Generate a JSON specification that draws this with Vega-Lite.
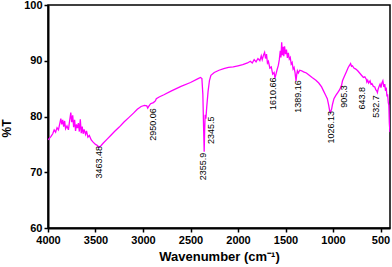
{
  "$schema": "https://vega.github.io/schema/vega-lite/v6.json",
  "width": 342,
  "height": 223,
  "autosize": "none",
  "padding": {"left": 48, "top": 5, "right": 2, "bottom": 39},
  "background": "white",
  "config": {
    "view": {"stroke": "black", "strokeWidth": 1.5},
    "font": "Liberation Sans",
    "axis": {
      "grid": false,
      "domainColor": "black",
      "domainWidth": 2,
      "tickColor": "black",
      "tickWidth": 1.5,
      "labelColor": "black",
      "titleColor": "black",
      "labelFont": "Liberation Sans",
      "titleFont": "Liberation Sans",
      "labelFontWeight": "bold",
      "titleFontWeight": "bold",
      "labelFontSize": 11,
      "titleFontSize": 13
    }
  },
  "datasets": {
    "spectrum": [
      {"wn": 4000, "t": 75.8}, {"wn": 3970, "t": 76.4}, {"wn": 3950, "t": 76.9}, {"wn": 3935, "t": 77.6},
      {"wn": 3920, "t": 77.2}, {"wn": 3905, "t": 78.0}, {"wn": 3890, "t": 77.6}, {"wn": 3875, "t": 78.8},
      {"wn": 3865, "t": 79.6}, {"wn": 3855, "t": 78.6}, {"wn": 3845, "t": 79.4}, {"wn": 3835, "t": 78.2},
      {"wn": 3825, "t": 79.2}, {"wn": 3815, "t": 77.8}, {"wn": 3800, "t": 78.3}, {"wn": 3785, "t": 77.6},
      {"wn": 3775, "t": 78.9}, {"wn": 3760, "t": 80.7}, {"wn": 3750, "t": 79.0}, {"wn": 3740, "t": 80.2},
      {"wn": 3730, "t": 78.1}, {"wn": 3720, "t": 79.4}, {"wn": 3710, "t": 77.4}, {"wn": 3700, "t": 78.6},
      {"wn": 3690, "t": 77.9}, {"wn": 3680, "t": 78.8}, {"wn": 3670, "t": 77.3}, {"wn": 3660, "t": 79.5},
      {"wn": 3650, "t": 77.0}, {"wn": 3640, "t": 78.2}, {"wn": 3630, "t": 76.9}, {"wn": 3620, "t": 77.7},
      {"wn": 3605, "t": 76.8}, {"wn": 3595, "t": 77.4}, {"wn": 3580, "t": 76.3}, {"wn": 3565, "t": 76.6},
      {"wn": 3545, "t": 75.8}, {"wn": 3525, "t": 75.4}, {"wn": 3500, "t": 75.0}, {"wn": 3480, "t": 74.8},
      {"wn": 3463, "t": 74.5}, {"wn": 3440, "t": 74.8}, {"wn": 3420, "t": 75.2}, {"wn": 3380, "t": 75.9},
      {"wn": 3340, "t": 76.6}, {"wn": 3300, "t": 77.3}, {"wn": 3250, "t": 78.1}, {"wn": 3200, "t": 79.0},
      {"wn": 3150, "t": 79.8}, {"wn": 3100, "t": 80.6}, {"wn": 3060, "t": 81.3}, {"wn": 3020, "t": 81.8},
      {"wn": 2985, "t": 82.0}, {"wn": 2960, "t": 81.9}, {"wn": 2950, "t": 81.5}, {"wn": 2940, "t": 81.8},
      {"wn": 2920, "t": 82.3}, {"wn": 2890, "t": 82.5}, {"wn": 2870, "t": 82.8}, {"wn": 2860, "t": 83.2},
      {"wn": 2830, "t": 83.5}, {"wn": 2780, "t": 83.9}, {"wn": 2700, "t": 84.6}, {"wn": 2600, "t": 85.4},
      {"wn": 2500, "t": 86.1}, {"wn": 2420, "t": 86.8}, {"wn": 2395, "t": 87.0}, {"wn": 2380, "t": 86.8},
      {"wn": 2370, "t": 84.0}, {"wn": 2362, "t": 78.0}, {"wn": 2356, "t": 73.7}, {"wn": 2351, "t": 77.5},
      {"wn": 2345.5, "t": 80.3}, {"wn": 2338, "t": 79.6}, {"wn": 2330, "t": 81.5}, {"wn": 2315, "t": 84.5},
      {"wn": 2300, "t": 86.5}, {"wn": 2285, "t": 87.4}, {"wn": 2250, "t": 87.9}, {"wn": 2200, "t": 88.3},
      {"wn": 2150, "t": 88.6}, {"wn": 2100, "t": 88.8}, {"wn": 2050, "t": 88.9}, {"wn": 2000, "t": 89.1},
      {"wn": 1950, "t": 89.3}, {"wn": 1900, "t": 89.6}, {"wn": 1870, "t": 89.9}, {"wn": 1850, "t": 89.6},
      {"wn": 1830, "t": 90.2}, {"wn": 1810, "t": 89.8}, {"wn": 1790, "t": 90.4}, {"wn": 1770, "t": 90.0},
      {"wn": 1755, "t": 90.9}, {"wn": 1745, "t": 90.2}, {"wn": 1730, "t": 91.1}, {"wn": 1720, "t": 91.5},
      {"wn": 1710, "t": 90.4}, {"wn": 1700, "t": 91.2}, {"wn": 1690, "t": 89.6}, {"wn": 1680, "t": 89.9},
      {"wn": 1665, "t": 88.7}, {"wn": 1650, "t": 88.9}, {"wn": 1635, "t": 87.6}, {"wn": 1620, "t": 87.9},
      {"wn": 1610.66, "t": 86.9}, {"wn": 1600, "t": 87.6}, {"wn": 1590, "t": 88.3}, {"wn": 1575, "t": 89.2},
      {"wn": 1565, "t": 90.2}, {"wn": 1555, "t": 91.8}, {"wn": 1548, "t": 90.6}, {"wn": 1540, "t": 93.3},
      {"wn": 1533, "t": 91.0}, {"wn": 1525, "t": 92.5}, {"wn": 1518, "t": 90.8}, {"wn": 1510, "t": 92.6},
      {"wn": 1500, "t": 91.2}, {"wn": 1490, "t": 92.0}, {"wn": 1480, "t": 90.5}, {"wn": 1470, "t": 91.4},
      {"wn": 1460, "t": 90.3}, {"wn": 1450, "t": 90.6}, {"wn": 1440, "t": 89.4}, {"wn": 1430, "t": 89.7},
      {"wn": 1420, "t": 88.5}, {"wn": 1410, "t": 88.8}, {"wn": 1400, "t": 87.9}, {"wn": 1389.16, "t": 86.4},
      {"wn": 1382, "t": 87.5}, {"wn": 1375, "t": 88.2}, {"wn": 1365, "t": 87.8}, {"wn": 1350, "t": 88.3},
      {"wn": 1330, "t": 88.2}, {"wn": 1310, "t": 88.0}, {"wn": 1280, "t": 87.8}, {"wn": 1250, "t": 87.4},
      {"wn": 1220, "t": 87.0}, {"wn": 1180, "t": 86.5}, {"wn": 1150, "t": 86.0}, {"wn": 1120, "t": 85.3},
      {"wn": 1100, "t": 84.6}, {"wn": 1080, "t": 83.9}, {"wn": 1060, "t": 83.2}, {"wn": 1045, "t": 82.0},
      {"wn": 1035, "t": 81.0}, {"wn": 1026.13, "t": 80.8}, {"wn": 1015, "t": 81.3}, {"wn": 1005, "t": 82.2},
      {"wn": 990, "t": 83.2}, {"wn": 970, "t": 83.8}, {"wn": 950, "t": 84.3}, {"wn": 930, "t": 84.8},
      {"wn": 910, "t": 85.6}, {"wn": 900, "t": 86.4}, {"wn": 880, "t": 87.2}, {"wn": 860, "t": 88.0},
      {"wn": 840, "t": 88.8}, {"wn": 825, "t": 89.2}, {"wn": 815, "t": 89.5}, {"wn": 805, "t": 89.0},
      {"wn": 795, "t": 89.1}, {"wn": 780, "t": 88.7}, {"wn": 760, "t": 88.5}, {"wn": 740, "t": 88.2},
      {"wn": 720, "t": 87.8}, {"wn": 700, "t": 87.4}, {"wn": 680, "t": 87.0}, {"wn": 665, "t": 87.1},
      {"wn": 650, "t": 86.7}, {"wn": 643.8, "t": 86.2}, {"wn": 635, "t": 86.5}, {"wn": 625, "t": 86.0},
      {"wn": 610, "t": 86.4}, {"wn": 600, "t": 85.8}, {"wn": 590, "t": 85.9}, {"wn": 575, "t": 85.4},
      {"wn": 560, "t": 85.3}, {"wn": 550, "t": 84.8}, {"wn": 540, "t": 84.6}, {"wn": 532.7, "t": 84.3},
      {"wn": 525, "t": 84.9}, {"wn": 515, "t": 85.4}, {"wn": 505, "t": 85.8}, {"wn": 495, "t": 85.2},
      {"wn": 485, "t": 86.0}, {"wn": 475, "t": 86.4}, {"wn": 465, "t": 85.3}, {"wn": 455, "t": 85.8},
      {"wn": 447, "t": 84.6}, {"wn": 440, "t": 85.2}, {"wn": 432, "t": 83.6}, {"wn": 425, "t": 84.0},
      {"wn": 418, "t": 82.5}, {"wn": 412, "t": 82.0}, {"wn": 407, "t": 78.8}, {"wn": 402, "t": 77.6},
      {"wn": 400, "t": 77.2}
    ],
    "peaks": [
      {"label": "3463.48", "wn": 3465, "t": 74.7},
      {"label": "2950.06", "wn": 2900, "t": 81.5},
      {"label": "2355.9", "wn": 2365, "t": 73.5},
      {"label": "2345.5", "wn": 2280, "t": 80.0},
      {"label": "1610.66", "wn": 1635, "t": 87.0},
      {"label": "1389.16", "wn": 1365, "t": 86.5},
      {"label": "1026.13", "wn": 1024, "t": 81.0},
      {"label": "905.3", "wn": 884, "t": 85.6},
      {"label": "643.8", "wn": 698, "t": 85.3},
      {"label": "532.7", "wn": 551, "t": 83.8}
    ]
  },
  "layer": [
    {
      "data": {"name": "spectrum"},
      "mark": {"type": "line", "color": "#ff00ff", "strokeWidth": 1.3, "clip": true},
      "encoding": {
        "x": {
          "field": "wn", "type": "quantitative",
          "scale": {"domain": [4000, 400], "nice": false, "zero": false},
          "axis": {
            "orient": "bottom",
            "title": "Wavenumber (cm⁻¹)",
            "values": [4000, 3750, 3500, 3250, 3000, 2750, 2500, 2250, 2000, 1750, 1500, 1250, 1000, 750, 500],
            "labelExpr": "datum.value % 500 == 0 ? format(datum.value, 'd') : ''",
            "tickSize": {"condition": {"test": "datum.value % 500 == 0", "value": 4}, "value": 2.5},
            "labelPadding": 2,
            "titlePadding": 5,
            "labelFlush": false
          }
        },
        "y": {
          "field": "t", "type": "quantitative",
          "scale": {"domain": [60, 100], "nice": false, "zero": false},
          "axis": {
            "orient": "left",
            "title": "%T",
            "values": [60, 65, 70, 75, 80, 85, 90, 95, 100],
            "labelExpr": "datum.value % 10 == 0 ? format(datum.value, 'd') : ''",
            "tickSize": {"condition": {"test": "datum.value % 10 == 0", "value": 4}, "value": 2.5},
            "labelPadding": 2,
            "titlePadding": 10,
            "titleFontSize": 12,
            "labelFlush": false,
            "titleY": 123
          }
        }
      }
    },
    {
      "data": {"name": "peaks"},
      "mark": {"type": "text", "angle": 270, "align": "right", "baseline": "middle", "fontSize": 9, "font": "Liberation Sans", "color": "black"},
      "encoding": {
        "x": {"field": "wn", "type": "quantitative"},
        "y": {"field": "t", "type": "quantitative"},
        "text": {"field": "label"}
      }
    }
  ]
}
